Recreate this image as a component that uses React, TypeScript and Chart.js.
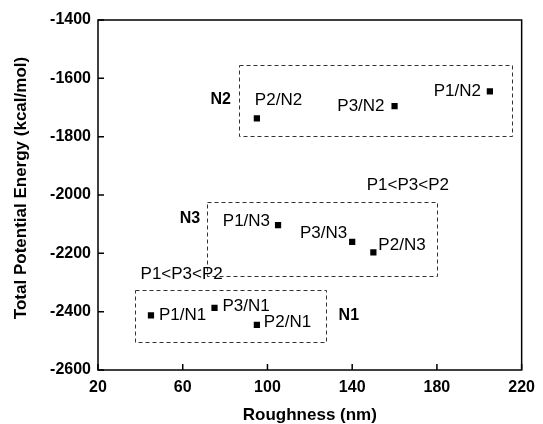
import React, { useEffect, useRef } from "react";
import { Chart, registerables } from "chart.js";

Chart.register(...registerables);

// ---- data ----
const pointLabels = ["P1/N1", "P3/N1", "P2/N1", "P1/N3", "P3/N3", "P2/N3", "P2/N2", "P3/N2", "P1/N2"];
const roughness = [45, 75, 95, 105, 140, 150, 95, 160, 205];
const energy = [-2413, -2387, -2445, -2103, -2161, -2197, -1737, -1695, -1645];

const xTicks = [20, 60, 100, 140, 180, 220];
const xTickLabels = ["20", "60", "100", "140", "180", "220"];
const yTicks = [-2600, -2400, -2200, -2000, -1800, -1600, -1400];
const yTickLabels = ["-2600", "-2400", "-2200", "-2000", "-1800", "-1600", "-1400"];

// group boxes
const groupNames = ["N2", "N3", "N1"];
const boxXMin = [86.6, 71.4, 37.3];
const boxXMax = [215.4, 180, 127.3];
const boxYTop = [-1554, -2023, -2326];
const boxYBottom = [-1797, -2278, -2506];
const groupLabelX = [77.9, 63.4, 138.4];
const groupLabelY = [-1674, -2082, -2412];

const orderText = ["P1<P3<P2", "P1<P3<P2"];
const orderX = [166.3, 59.5];
const orderY = [-1966, -2272];

// label placement (pixel offsets from marker) — styling only
const labelAlign: ("left" | "right")[] = ["left", "left", "left", "right", "right", "left", "left", "right", "right"];
const labelDx = [8, 8, 7, -8, -5, 5, -2, -10, -9];
const labelDy = [0, -2, -2, -4, -9, -7, -18, 0, 0];

const FAMILY = "Liberation Sans, Arial, Helvetica, sans-serif";

const overlayPlugin = {
  id: "overlay",
  afterDraw(chart: any) {
    const ctx = chart.ctx;
    const { left, right, top, bottom } = chart.chartArea;
    const xs = chart.scales.x;
    const ys = chart.scales.y;
    ctx.save();

    // dashed group boxes
    ctx.strokeStyle = "#333";
    ctx.lineWidth = 1;
    ctx.setLineDash([4, 3]);
    for (let i = 0; i < groupNames.length; i++) {
      const x1 = xs.getPixelForValue(boxXMin[i]);
      const x2 = xs.getPixelForValue(boxXMax[i]);
      const y1 = ys.getPixelForValue(boxYTop[i]);
      const y2 = ys.getPixelForValue(boxYBottom[i]);
      ctx.strokeRect(Math.round(x1) + 0.5, Math.round(y1) + 0.5, Math.round(x2 - x1), Math.round(y2 - y1));
    }
    ctx.setLineDash([]);

    // frame
    ctx.strokeStyle = "#000";
    ctx.lineWidth = 1.5;
    ctx.strokeRect(left, top, right - left, bottom - top);

    // inward ticks
    ctx.beginPath();
    xs.ticks.forEach((t: any) => {
      const px = xs.getPixelForValue(t.value);
      ctx.moveTo(px, bottom);
      ctx.lineTo(px, bottom - 6);
    });
    ys.ticks.forEach((t: any) => {
      const py = ys.getPixelForValue(t.value);
      ctx.moveTo(left, py);
      ctx.lineTo(left + 6, py);
    });
    ctx.stroke();

    // point labels
    const meta = chart.getDatasetMeta(0);
    ctx.fillStyle = "#000";
    ctx.font = `17px ${FAMILY}`;
    ctx.textBaseline = "middle";
    meta.data.forEach((pt: any, i: number) => {
      ctx.textAlign = labelAlign[i];
      ctx.fillText(pointLabels[i], pt.x + labelDx[i], pt.y + labelDy[i]);
    });

    // group labels
    ctx.font = `bold 16px ${FAMILY}`;
    ctx.textAlign = "center";
    for (let i = 0; i < groupNames.length; i++) {
      ctx.fillText(groupNames[i], xs.getPixelForValue(groupLabelX[i]), ys.getPixelForValue(groupLabelY[i]));
    }

    // order annotations
    ctx.font = `17px ${FAMILY}`;
    for (let i = 0; i < orderText.length; i++) {
      ctx.fillText(orderText[i], xs.getPixelForValue(orderX[i]), ys.getPixelForValue(orderY[i]));
    }

    // axis titles
    ctx.font = `bold 17px ${FAMILY}`;
    ctx.textAlign = "center";
    ctx.fillText("Roughness (nm)", (left + right) / 2, 415);
    ctx.translate(21, 188);
    ctx.rotate(-Math.PI / 2);
    ctx.fillText("Total Potential Energy (kcal/mol)", 0, 0);

    ctx.restore();
  },
};

export default function App() {
  const ref = useRef<HTMLCanvasElement | null>(null);

  useEffect(() => {
    document.body.style.margin = "0";
    const canvas = ref.current;
    if (!canvas) return;
    const tickFont = { family: FAMILY, size: 16, weight: 700 as any };
    const chart = new Chart(canvas, {
      type: "scatter",
      data: {
        datasets: [
          {
            label: "energy",
            data: roughness.map((x, i) => ({ x, y: energy[i] })),
            pointStyle: "rect",
            pointRadius: 4.4,
            pointHoverRadius: 4.4,
            backgroundColor: "#000",
            borderColor: "#000",
            borderWidth: 0,
          },
        ],
      },
      options: {
        responsive: false,
        animation: false,
        devicePixelRatio: 1,
        layout: { padding: { top: 20, right: 14, left: 0, bottom: 0 } },
        plugins: { legend: { display: false }, tooltip: { enabled: false } },
        scales: {
          x: {
            type: "linear",
            min: 20,
            max: 220,
            afterFit: (s: any) => {
              s.height = 54;
            },
            afterBuildTicks: (s: any) => {
              s.ticks = xTicks.map((v) => ({ value: v }));
            },
            grid: { display: false, drawTicks: false },
            border: { display: false },
            ticks: {
              padding: 8,
              color: "#000",
              font: tickFont,
              maxRotation: 0,
              callback: (v: any) => {
                const i = xTicks.indexOf(Number(v));
                return i >= 0 ? xTickLabels[i] : "";
              },
            },
          },
          y: {
            type: "linear",
            min: -2600,
            max: -1400,
            afterFit: (s: any) => {
              s.width = 98;
            },
            afterBuildTicks: (s: any) => {
              s.ticks = yTicks.map((v) => ({ value: v }));
            },
            grid: { display: false, drawTicks: false },
            border: { display: false },
            ticks: {
              padding: 7,
              color: "#000",
              font: tickFont,
              callback: (v: any) => {
                const i = yTicks.indexOf(Number(v));
                return i >= 0 ? yTickLabels[i] : "";
              },
            },
          },
        },
      },
      plugins: [overlayPlugin],
    });
    return () => chart.destroy();
  }, []);

  return (
    <div style={{ width: 543, height: 424, background: "#fff" }}>
      <canvas ref={ref} width={543} height={424} style={{ display: "block" }} />
    </div>
  );
}
